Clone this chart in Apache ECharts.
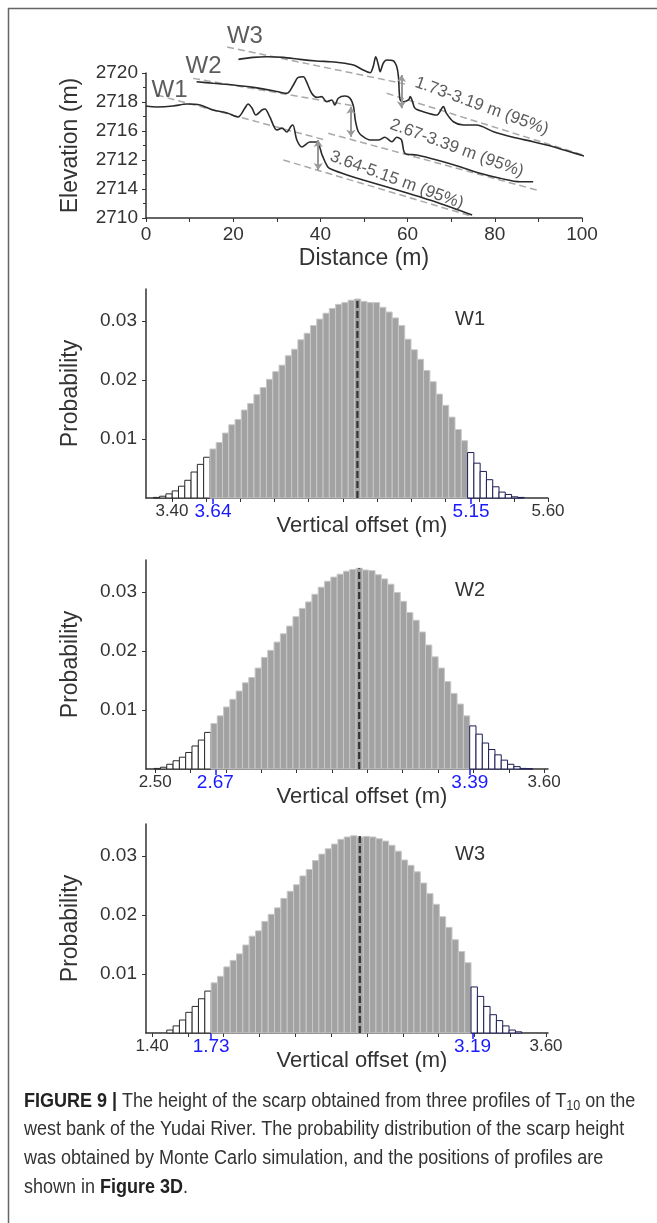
<!DOCTYPE html>
<html>
<head>
<meta charset="utf-8">
<script src="https://cdn.jsdelivr.net/npm/echarts@6/dist/echarts.min.js"></script>
<style>
html, body { margin: 0; padding: 0; background: #fff; }
#chart { width: 657px; height: 1223px; }
</style>
</head>
<body>
<div id="chart"></div>
<script>
var FONT = "'Liberation Sans', Arial, Helvetica, sans-serif";
var INK = '#333';
var BLUE = '#1a1aff';

// ---- top panel: elevation profiles (distance m, elevation m)
var w1Distance = [0, 2.5, 6.2, 9.4, 12.4, 15.4, 18.6, 21.1, 22.7, 23.4, 24.3, 25.2, 26.6, 27.3, 28.4, 30, 31.2, 32.3, 33.3, 33.7, 34.6, 35.8, 37.6, 39.2, 40.4, 41.7, 42.9, 46.1, 49.8, 55.3, 59.9, 65.1, 70.4, 74.8];
var w1Elev = [2717.72, 2717.66, 2717.72, 2717.86, 2717.79, 2717.45, 2717.24, 2716.97, 2717.59, 2717.86, 2717.59, 2717.1, 2717.45, 2717.52, 2716.97, 2716.07, 2716.2, 2715.93, 2716.34, 2716.41, 2715.38, 2714.9, 2715.24, 2715.24, 2714.34, 2713.52, 2713.31, 2712.97, 2712.62, 2712.14, 2711.72, 2711.24, 2710.69, 2710.2];
var w2Distance = [11.6, 15.4, 20, 24.6, 29.2, 32.3, 33.8, 34.9, 36.1, 36.8, 38, 39.2, 40.3, 41.4, 42.6, 43.3, 44.1, 45.6, 46.8, 47.6, 48, 48.7, 49.8, 51.4, 53.3, 54.8, 56.4, 57.5, 58.6, 59.4, 62.1, 66.7, 72, 76.6, 81.2, 85.8, 88.8];
var w2Elev = [2719.4, 2719.29, 2719.17, 2719.01, 2718.78, 2718.6, 2719.17, 2719.7, 2719.74, 2719.4, 2718.6, 2718.32, 2718.37, 2718.02, 2718.14, 2717.79, 2718.26, 2718.41, 2718.26, 2717.68, 2716.76, 2715.95, 2715.61, 2715.38, 2715.38, 2715.57, 2715.26, 2715.57, 2715.38, 2714.46, 2714.34, 2714, 2713.54, 2713.08, 2712.74, 2712.5, 2712.5];
var w3Distance = [21.2, 24.6, 27.7, 31.5, 35.3, 39.1, 42.2, 43.7, 47.6, 49.8, 51.4, 52.1, 52.7, 53.3, 53.7, 54.4, 55.2, 56.7, 57.5, 57.9, 58.1, 58.3, 59, 60.2, 60.6, 61, 61.7, 63.6, 66.7, 68.2, 68.9, 70.5, 72.8, 75.8, 79.7, 84.2, 88.8, 93.4, 97.2, 101];
var w3Elev = [2720.94, 2721.08, 2721.12, 2721.08, 2720.94, 2720.83, 2720.78, 2720.74, 2720.55, 2720.21, 2720.02, 2720.44, 2721.12, 2720.55, 2720.09, 2720.67, 2720.9, 2720.85, 2720.44, 2719.75, 2718.6, 2718.14, 2718.02, 2718.14, 2718.37, 2718.14, 2717.57, 2717.33, 2717.1, 2717.68, 2717.22, 2716.64, 2716.41, 2716.41, 2715.95, 2715.57, 2715.26, 2714.92, 2714.57, 2714.23];

// dashed surface lines [d0, e0, d1, e1]
var fitLines = [
  [2.5, 2718.48, 41.1, 2715.38],
  [31.5, 2714.0, 75.1, 2710.09],
  [10.8, 2719.63, 47.9, 2717.72],
  [41.8, 2715.84, 89.6, 2711.93],
  [18.6, 2721.79, 59.4, 2719.24],
  [55.2, 2718.6, 105.6, 2713.84]
];
// offset arrows [d, top, bottom]
var offsetArrows = [[39.5, 2715.38, 2713.31], [47, 2717.68, 2715.61], [58.6, 2719.86, 2717.57]];
var offsetText = ['3.64-5.15 m (95%)', '2.67-3.39 m (95%)', '1.73-3.19 m (95%)'];
var offsetPos = [[57.5, 2712.62], [71.3, 2714.81], [77, 2717.72]];
var profileNames = ['W1', 'W2', 'W3'];
var profileNamePos = [[5.4, 2718.83], [13.2, 2720.48], [22.7, 2722.55]];
var elevTickLabels = ['2710', '2714', '2712', '2716', '2718', '2720'];

// ---- histograms (probability per bin)
var probTicks = [0.01, 0.02, 0.03];

var w1Heights = [0.0001, 0.0003, 0.0007, 0.0012, 0.0020, 0.0030, 0.0044, 0.0057, 0.0069,
  0.0083, 0.0094, 0.0110, 0.0124, 0.0133, 0.0149, 0.0160, 0.0175, 0.0187, 0.0201, 0.0214, 0.0225, 0.0241, 0.0252, 0.0268, 0.0279, 0.0292, 0.0303, 0.0313, 0.0321, 0.0328, 0.0331, 0.0335, 0.0337, 0.0333, 0.0331, 0.0331, 0.0323, 0.0315, 0.0305, 0.0292, 0.0269, 0.0251, 0.0235, 0.0216, 0.0197, 0.0176, 0.0157, 0.0137, 0.0116, 0.0097,
  0.0077, 0.0059, 0.0045, 0.0031, 0.0019, 0.0010, 0.0006, 0.0002, 0.0001];
var w1Start = 3.291, w1Step = 0.03677, w1Tails = [9, 9];
var w1Range = [3.248, 5.6];
var w1Ticks = [3.4, 3.6, 3.8, 4.0, 4.2, 4.4, 4.6, 4.8, 5.0, 5.2, 5.4, 5.6];
var w1Labels = [3.4, 5.6];
var w1Ci = [3.64, 5.15];
var w1Mean = 4.485;

var w2Heights = [0.0001, 0.0003, 0.0008, 0.0014, 0.0020, 0.0028, 0.0039, 0.0049, 0.0062,
  0.0077, 0.0090, 0.0105, 0.0118, 0.0132, 0.0146, 0.0155, 0.0171, 0.0189, 0.0201, 0.0215, 0.0229, 0.0242, 0.0258, 0.0272, 0.0283, 0.0296, 0.0308, 0.0318, 0.0325, 0.0330, 0.0335, 0.0338, 0.0340, 0.0337, 0.0336, 0.0329, 0.0322, 0.0313, 0.0299, 0.0284, 0.0265, 0.0252, 0.0232, 0.0210, 0.0190, 0.0171, 0.0148, 0.0128, 0.0110, 0.0090,
  0.0073, 0.0059, 0.0044, 0.0033, 0.0024, 0.0015, 0.0008, 0.0004, 0.0001, 0.00005];
var w2Start = 2.497, w2Step = 0.01785, w2Tails = [9, 10];
var w2Range = [2.474, 3.611];
var w2Ticks = [2.5, 2.6, 2.7, 2.8, 2.9, 3.0, 3.1, 3.2, 3.3, 3.4, 3.5, 3.6];
var w2Labels = [2.5, 3.6];
var w2Ci = [2.67, 3.39];
var w2Mean = 3.077;

var w3Heights = [0.0005, 0.0012, 0.0022, 0.0035, 0.0045, 0.0058, 0.0071,
  0.0085, 0.0096, 0.0112, 0.0123, 0.0134, 0.0149, 0.0164, 0.0173, 0.0189, 0.0201, 0.0212, 0.0228, 0.0240, 0.0251, 0.0266, 0.0277, 0.0292, 0.0303, 0.0312, 0.0320, 0.0328, 0.0332, 0.0334, 0.0332, 0.0333, 0.0332, 0.0329, 0.0325, 0.0318, 0.0308, 0.0293, 0.0284, 0.0273, 0.0254, 0.0236, 0.0218, 0.0197, 0.0179, 0.0158, 0.0138, 0.0119,
  0.0078, 0.0062, 0.0045, 0.0031, 0.0021, 0.0012, 0.0005, 0.0002];
var w3Start = 1.482, w3Step = 0.0354, w3Tails = [7, 8];
var w3Range = [1.366, 3.611];
var w3Ticks = [1.4, 1.6, 1.8, 2.0, 2.2, 2.4, 2.6, 2.8, 3.0, 3.2, 3.4, 3.6];
var w3Labels = [1.4, 3.6];
var w3Ci = [1.73, 3.19];
var w3Mean = 2.56;

function pairs(xs, ys) {
  return xs.map(function (x, i) { return [x, ys[i]]; });
}

function histItems(start, step, heights, tails) {
  var out = [];
  for (var i = 0; i < heights.length; i++) {
    var cls = i < tails[0] ? 1 : (i >= heights.length - tails[1] ? 2 : 0);
    out.push([start + i * step, start + (i + 1) * step, heights[i], cls]);
  }
  return out;
}

function renderBar(params, api) {
  var a = api.coord([api.value(0), api.value(2)]);
  var b = api.coord([api.value(1), 0]);
  var cls = api.value(3);
  var style;
  if (cls === 0) style = { fill: '#a2a2a2', stroke: '#c8c8c8', lineWidth: 1 };
  else style = { fill: '#fff', stroke: cls === 1 ? '#2a2a2a' : '#1c1c55', lineWidth: 1 };
  return { type: 'rect', shape: { x: a[0], y: a[1], width: b[0] - a[0], height: b[1] - a[1] }, style: style };
}

var grids = [
  { left: 146, top: 73, width: 436, height: 145 },
  { left: 146, top: 289, width: 402, height: 209 },
  { left: 146, top: 560, width: 402, height: 209 },
  { left: 146, top: 824, width: 402, height: 209 }
];

function histX(g, range, ticks, labels) {
  return {
    type: 'value', gridIndex: g, min: range[0], max: range[1], position: 'bottom',
    axisLine: { onZero: false, lineStyle: { color: INK, width: 1.5 } },
    axisTick: { customValues: ticks, length: 4, lineStyle: { color: INK, width: 1 } },
    axisLabel: { customValues: labels, formatter: function (v) { return v.toFixed(2); }, color: INK, fontSize: 17, margin: 5, fontFamily: FONT },
    splitLine: { show: false },
    name: 'Vertical offset (m)', nameLocation: 'middle', nameGap: 17, nameMoveOverlap: false,
    nameTextStyle: { fontSize: 22, color: INK, fontFamily: FONT, padding: [0, 0, 0, 30] }
  };
}
function ciX(g, range, ci) {
  return {
    type: 'value', gridIndex: g, min: range[0], max: range[1], position: 'bottom',
    axisLine: { show: false, onZero: false },
    axisTick: { customValues: ci, length: 6, lineStyle: { color: BLUE, width: 1.5 } },
    axisLabel: { customValues: ci, formatter: function (v) { return v.toFixed(2); }, color: BLUE, fontSize: 19, margin: 4, fontFamily: FONT },
    splitLine: { show: false }
  };
}
function histY(g) {
  return {
    type: 'value', gridIndex: g, min: 0, max: 0.0354,
    axisLine: { show: true, onZero: false, lineStyle: { color: INK, width: 1.5 } },
    axisTick: { show: true, customValues: probTicks, length: 4, lineStyle: { color: INK } },
    axisLabel: { customValues: probTicks, formatter: function (v) { return v.toFixed(2); }, color: INK, fontSize: 19, margin: 9, fontFamily: FONT },
    splitLine: { show: false },
    name: 'Probability', nameLocation: 'middle', nameGap: 64, nameMoveOverlap: false,
    nameTextStyle: { fontSize: 23, color: INK, fontFamily: FONT }
  };
}

var hists = [
  { start: w1Start, step: w1Step, heights: w1Heights, tails: w1Tails, mean: w1Mean },
  { start: w2Start, step: w2Step, heights: w2Heights, tails: w2Tails, mean: w2Mean },
  { start: w3Start, step: w3Step, heights: w3Heights, tails: w3Tails, mean: w3Mean }
];

var xAxes = [{
  type: 'value', gridIndex: 0, min: 0, max: 100, interval: 10,
  axisLine: { onZero: false, lineStyle: { color: INK, width: 1.5 } },
  axisTick: { length: 4, lineStyle: { color: INK } },
  axisLabel: { formatter: function (v) { return v % 20 === 0 ? String(v) : ''; }, color: INK, fontSize: 19, margin: 7, fontFamily: FONT },
  splitLine: { show: false },
  name: 'Distance (m)', nameLocation: 'middle', nameGap: 29, nameMoveOverlap: false,
  nameTextStyle: { fontSize: 23, color: INK, fontFamily: FONT }
},
  histX(1, w1Range, w1Ticks, w1Labels), ciX(1, w1Range, w1Ci),
  histX(2, w2Range, w2Ticks, w2Labels), ciX(2, w2Range, w2Ci),
  histX(3, w3Range, w3Ticks, w3Labels), ciX(3, w3Range, w3Ci)
];
var yAxes = [{
  type: 'value', gridIndex: 0, min: 2710, max: 2720, interval: 2,
  axisLine: { onZero: false, lineStyle: { color: INK, width: 1.5 } },
  axisTick: { length: 4, lineStyle: { color: INK } },
  minorTick: { show: true, splitNumber: 2, length: 3, lineStyle: { color: INK } },
  axisLabel: { formatter: function (v) { return elevTickLabels[Math.round((v - 2710) / 2)]; }, color: INK, fontSize: 19, margin: 8, fontFamily: FONT },
  splitLine: { show: false },
  name: 'Elevation (m)', nameLocation: 'middle', nameGap: 64, nameMoveOverlap: false,
  nameTextStyle: { fontSize: 23, color: INK, fontFamily: FONT }
}, histY(1), histY(2), histY(3)];

var series = [];
[[w1Distance, w1Elev], [w2Distance, w2Elev], [w3Distance, w3Elev]].forEach(function (p) {
  series.push({
    type: 'line', xAxisIndex: 0, yAxisIndex: 0, data: pairs(p[0], p[1]), showSymbol: false, symbol: 'none',
    smooth: 0.3, clip: false, lineStyle: { color: '#2a2a2a', width: 1.6 }, z: 3
  });
});
fitLines.forEach(function (f) {
  series.push({
    type: 'line', xAxisIndex: 0, yAxisIndex: 0, data: [[f[0], f[1]], [f[2], f[3]]], symbol: 'none', clip: false,
    lineStyle: { color: '#a9a9a9', width: 1.5, type: [7, 4] }, z: 2
  });
});
series.push({
  type: 'lines', coordinateSystem: 'cartesian2d', xAxisIndex: 0, yAxisIndex: 0, clip: false,
  data: offsetArrows.map(function (a) { return { coords: [[a[0], a[1]], [a[0], a[2]]] }; }),
  symbol: ['arrow', 'arrow'], symbolSize: 7, lineStyle: { color: '#999', width: 2, opacity: 1 }, z: 4
});
series.push({
  type: 'scatter', xAxisIndex: 0, yAxisIndex: 0, symbolSize: 0, clip: false,
  data: offsetPos.map(function (p, i) { return [p[0], p[1], offsetText[i]]; }),
  label: { show: true, position: 'inside', rotate: -20, formatter: function (p) { return p.data[2]; }, color: INK, fontSize: 17, fontFamily: FONT },
  z: 5
});
series.push({
  type: 'scatter', xAxisIndex: 0, yAxisIndex: 0, symbolSize: 0, clip: false,
  data: profileNamePos.map(function (p, i) { return [p[0], p[1], profileNames[i]]; }),
  label: { show: true, position: 'inside', formatter: function (p) { return p.data[2]; }, color: INK, fontSize: 24, fontFamily: FONT },
  z: 5
});

hists.forEach(function (h, k) {
  var g = k + 1;
  series.push({
    type: 'custom', xAxisIndex: 2 * k + 1, yAxisIndex: g, renderItem: renderBar,
    data: histItems(h.start, h.step, h.heights, h.tails), encode: { x: [0, 1], y: 2 }, z: 2
  });
  series.push({
    type: 'line', xAxisIndex: 2 * k + 1, yAxisIndex: g, symbol: 'none',
    data: [[h.mean, 0], [h.mean, Math.max.apply(null, h.heights)]],
    lineStyle: { color: '#333', width: 2.2, type: [7, 3] }, z: 4
  });
});

// caption: regular sans squeezed sideways to get the condensed look
var capRich = {
  n: { fontSize: 20, fontFamily: FONT, fill: '#333', fontWeight: 'normal' },
  b: { fontSize: 20, fontFamily: FONT, fill: '#222', fontWeight: 'bold' },
  s: { fontSize: 14, fontFamily: FONT, fill: '#333', verticalAlign: 'bottom', padding: [9, 0, 0, 0] }
};
var captionLines = [
  '{b|FIGURE 9 |}{n| The height of the scarp obtained from three profiles of T}{s|10}{n| on the}',
  '{n|west bank of the Yudai River. The probability distribution of the scarp height}',
  '{n|was obtained by Monte Carlo simulation, and the positions of profiles are}',
  '{n|shown in }{b|Figure 3D}{n|.}'
];
var captionTops = [1090, 1119, 1148, 1177];

var graphics = [
  { type: 'line', shape: { x1: 8, y1: 8.5, x2: 657, y2: 8.5 }, style: { stroke: '#666', lineWidth: 1.5 } },
  { type: 'line', shape: { x1: 8.5, y1: 8, x2: 8.5, y2: 1223 }, style: { stroke: '#666', lineWidth: 1.5 } }
];
['W1', 'W2', 'W3'].forEach(function (t, k) {
  graphics.push({ type: 'text', left: 455, top: grids[k + 1].top + 20, style: { text: t, font: '20px ' + FONT, fill: INK } });
});
captionLines.forEach(function (t, i) {
  graphics.push({
    type: 'text', x: 24, y: captionTops[i], scaleX: 0.9, originX: 0, originY: 0,
    style: { text: t, rich: capRich, font: '20px ' + FONT, fill: '#333', verticalAlign: 'top', align: 'left' }
  });
});

var chart = echarts.init(document.getElementById('chart'));
chart.setOption({
  animation: false,
  textStyle: { fontFamily: FONT },
  grid: grids,
  xAxis: xAxes,
  yAxis: yAxes,
  series: series,
  graphic: graphics
});
</script>
</body>
</html>
